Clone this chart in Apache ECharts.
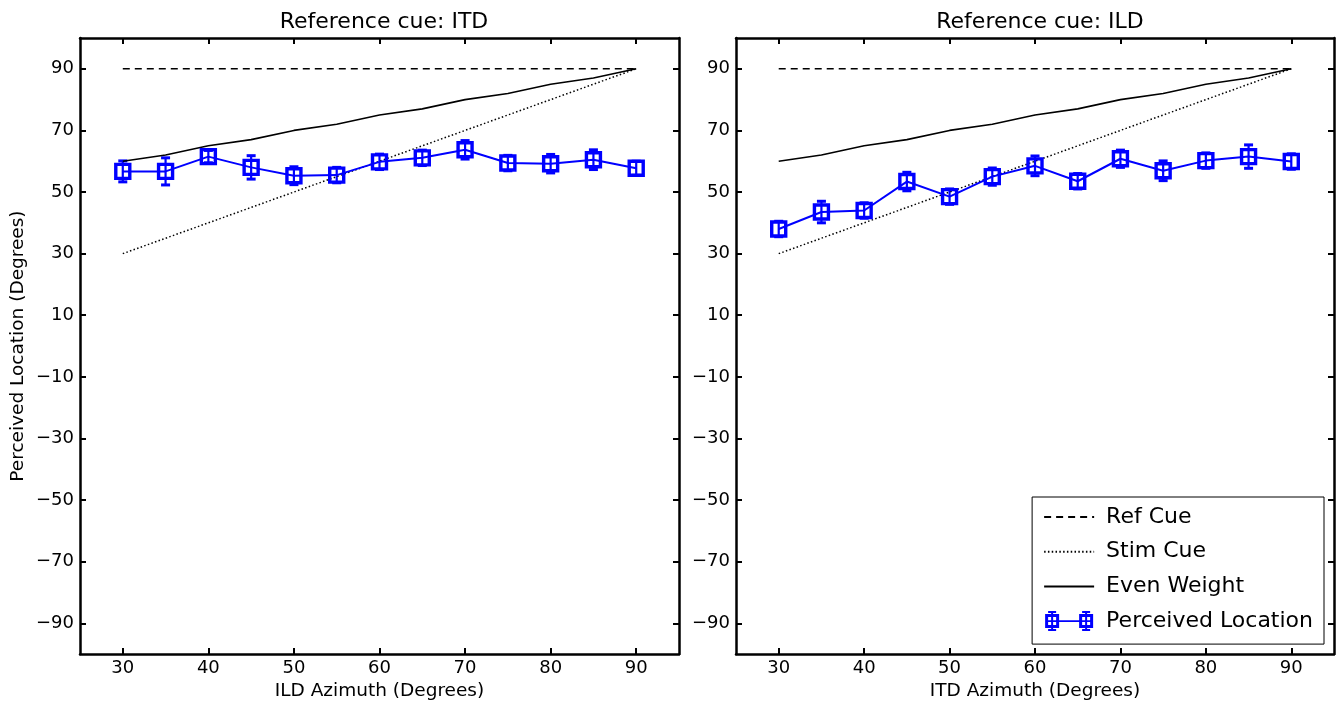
<!DOCTYPE html>
<html>
<head>
<meta charset="utf-8">
<script src="https://cdn.jsdelivr.net/npm/echarts@6/dist/echarts.min.js"></script>
<style>
  html, body { margin: 0; padding: 0; background: #fff; }
  #chart { width: 1339px; height: 706px; }
</style>
</head>
<body>
<div id="chart"></div>
<script>
  // azimuth of the stimulus (x axis of both panels)
  var azimuth = [30, 35, 40, 45, 50, 55, 60, 65, 70, 75, 80, 85, 90];
  var refCue = [90, 90, 90, 90, 90, 90, 90, 90, 90, 90, 90, 90, 90];
  var stimCue = [30, 35, 40, 45, 50, 55, 60, 65, 70, 75, 80, 85, 90];
  var evenWeight = [60, 62, 65, 67, 70, 72, 75, 77, 80, 82, 85, 87, 90];

  // reference cue: ITD (left panel)
  var itdMean = [56.7, 56.7, 61.5, 58.0, 55.3, 55.5, 59.8, 61.1, 63.7, 59.4, 59.2, 60.5, 57.7];
  var itdErr = [3.4, 4.4, 2.0, 3.8, 2.9, 2.5, 2.5, 2.5, 3.0, 2.5, 3.0, 3.2, 2.3];
  // reference cue: ILD (right panel)
  var ildMean = [38.0, 43.5, 44.0, 53.4, 48.5, 55.0, 58.5, 53.5, 60.8, 56.9, 60.2, 61.5, 59.9];
  var ildErr = [2.5, 3.5, 2.5, 3.0, 2.5, 2.8, 3.2, 2.5, 2.8, 3.2, 2.5, 3.8, 2.5];

  var xTicks = [30, 40, 50, 60, 70, 80, 90];
  var yTicks = [-90, -70, -50, -30, -10, 10, 30, 50, 70, 90];

  var FONT = 'DejaVu Sans';
  var BLUE = '#0000ff';

  // errorbar marker + line, for the legend only
  var errIcon = 'path://M0 3L14 3L14 17L0 17Z M3 6L3 14L11 14L11 6Z M6 0L8 0L8 20L6 20Z M3 0L11 0L11 2L3 2Z M3 18L11 18L11 20L3 20Z ' +
    'M0 9.2L48 9.2L48 10.8L0 10.8Z ' +
    'M34 3L48 3L48 17L34 17Z M37 6L37 14L45 14L45 6Z M40 0L42 0L42 20L40 20Z M37 0L45 0L45 2L37 2Z M37 18L45 18L45 20L37 20Z';

  function pairs(xs, ys) {
    var out = [];
    for (var i = 0; i < xs.length; i++) out.push([xs[i], ys[i]]);
    return out;
  }
  function errData(xs, m, e) {
    var out = [];
    for (var i = 0; i < xs.length; i++) out.push([xs[i], m[i] - e[i], m[i] + e[i]]);
    return out;
  }
  function minus(v) { return String(v).replace('-', '\u2212'); }

  function xAx(grid, pos, name) {
    return {
      type: 'value', gridIndex: grid, position: pos, min: 25, max: 95,
      name: name, nameLocation: 'middle', nameGap: 27,
      nameTextStyle: { fontFamily: FONT, fontSize: 18.5, color: '#000' },
      axisLine: { show: true, onZero: false, lineStyle: { color: '#000', width: 2.5 } },
      axisTick: { show: true, inside: true, length: 6, customValues: xTicks, lineStyle: { color: '#000', width: 2 } },
      axisLabel: { show: pos === 'bottom', customValues: xTicks, margin: 5, fontFamily: FONT, fontSize: 18, color: '#000' },
      splitLine: { show: false }
    };
  }
  function yAx(grid, pos, name) {
    return {
      type: 'value', gridIndex: grid, position: pos, min: -100, max: 100,
      name: name, nameLocation: 'middle', nameGap: 52,
      nameTextStyle: { fontFamily: FONT, fontSize: 18.5, color: '#000' },
      axisLine: { show: true, onZero: false, lineStyle: { color: '#000', width: 2.5 } },
      axisTick: { show: true, inside: true, length: 6, customValues: yTicks, lineStyle: { color: '#000', width: 2 } },
      axisLabel: { show: pos === 'left', customValues: yTicks, margin: 6, fontFamily: FONT, fontSize: 18, color: '#000', formatter: minus },
      splitLine: { show: false }
    };
  }

  function panelSeries(idx, mean, err) {
    var xi = idx * 2, yi = idx * 2;
    return [{
      name: 'Ref Cue', type: 'line', xAxisIndex: xi, yAxisIndex: yi,
      data: pairs(azimuth, refCue), showSymbol: false, symbol: 'none',
      lineStyle: { color: '#000', width: 1.5, type: [7, 5] }, itemStyle: { color: '#000' }
    }, {
      name: 'Stim Cue', type: 'line', xAxisIndex: xi, yAxisIndex: yi,
      data: pairs(azimuth, stimCue), showSymbol: false, symbol: 'none',
      lineStyle: { color: '#000', width: 1.5, type: [1.5, 2.3] }, itemStyle: { color: '#000' }
    }, {
      name: 'Even Weight', type: 'line', xAxisIndex: xi, yAxisIndex: yi,
      data: pairs(azimuth, evenWeight), showSymbol: false, symbol: 'none',
      lineStyle: { color: '#000', width: 1.6 }, itemStyle: { color: '#000' }
    }, {
      name: 'err' + idx, type: 'custom', xAxisIndex: xi, yAxisIndex: yi,
      data: errData(azimuth, mean, err), z: 3,
      renderItem: function (params, api) {
        var lo = api.coord([api.value(0), api.value(1)]);
        var hi = api.coord([api.value(0), api.value(2)]);
        var cw = 4.5;
        var cap = { stroke: BLUE, lineWidth: 3 };
        return {
          type: 'group', children: [
            { type: 'line', shape: { x1: lo[0], y1: lo[1], x2: hi[0], y2: hi[1] }, style: { stroke: BLUE, lineWidth: 2.2 } },
            { type: 'line', shape: { x1: lo[0] - cw, y1: lo[1], x2: lo[0] + cw, y2: lo[1] }, style: cap },
            { type: 'line', shape: { x1: hi[0] - cw, y1: hi[1], x2: hi[0] + cw, y2: hi[1] }, style: cap }
          ]
        };
      }
    }, {
      name: 'Perceived Location', type: 'line', xAxisIndex: xi, yAxisIndex: yi,
      data: pairs(azimuth, mean), symbol: 'rect', symbolSize: 14, showSymbol: true, z: 4,
      lineStyle: { color: BLUE, width: 2 },
      itemStyle: { color: 'none', borderColor: BLUE, borderWidth: 3.4 }
    }];
  }

  var chart = echarts.init(document.getElementById('chart'));
  var option = {
    animation: false,
    backgroundColor: '#fff',
    title: [
      { text: 'Reference cue: ITD', left: 379, top: 6, textAlign: 'center',
        textStyle: { fontFamily: FONT, fontSize: 22, fontWeight: 'normal', color: '#000' } },
      { text: 'Reference cue: ILD', left: 1035, top: 6, textAlign: 'center',
        textStyle: { fontFamily: FONT, fontSize: 22, fontWeight: 'normal', color: '#000' } }
    ],
    grid: [
      { left: 80, top: 38, width: 599, height: 617 },
      { left: 736, top: 38, width: 598, height: 617 }
    ],
    xAxis: [
      xAx(0, 'bottom', 'ILD Azimuth (Degrees)'), xAx(0, 'top', ''),
      xAx(1, 'bottom', 'ITD Azimuth (Degrees)'), xAx(1, 'top', '')
    ],
    yAxis: [
      yAx(0, 'left', 'Perceived Location (Degrees)'), yAx(0, 'right', ''),
      yAx(1, 'left', ''), yAx(1, 'right', '')
    ],
    legend: {
      data: [
        { name: 'Ref Cue', itemStyle: { opacity: 0 } },
        { name: 'Stim Cue', itemStyle: { opacity: 0 } },
        { name: 'Even Weight', itemStyle: { opacity: 0 } },
        { name: 'Perceived Location', icon: errIcon, itemStyle: { color: BLUE, borderWidth: 0 } }
      ],
      orient: 'vertical', right: 15, top: 497,
      padding: [9, 11, 12, 11], itemGap: 12.7, itemWidth: 50, itemHeight: 20,
      formatter: function (n) { return ' ' + n; },
      backgroundColor: '#fff', borderColor: '#000', borderWidth: 1,
      textStyle: { fontFamily: FONT, fontSize: 22, color: '#000' }
    },
    series: panelSeries(0, itdMean, itdErr).concat(panelSeries(1, ildMean, ildErr))
  };
  chart.setOption(option);
</script>
</body>
</html>
